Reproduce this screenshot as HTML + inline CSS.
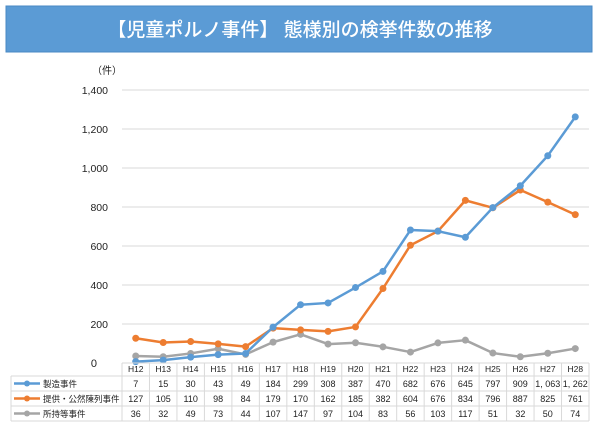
<!DOCTYPE html>
<html><head><meta charset="utf-8"><style>
html,body{margin:0;padding:0;background:#fff;}
svg text{font-family:"Liberation Sans","Noto Sans CJK JP",sans-serif;}
</style></head><body>
<svg width="600" height="432" viewBox="0 0 600 432" xmlns="http://www.w3.org/2000/svg">
<rect x="0" y="0" width="600" height="432" fill="#fff"/>
<rect x="6" y="6" width="586" height="46" fill="#5b9bd5" stroke="#4a89c4"/>
<text x="300" y="36" text-anchor="middle" fill="#fff" font-size="19" font-weight="500">【児童ポルノ事件】 態様別の検挙件数の推移</text>
<text x="92" y="74" font-size="10" fill="#222">（件）</text>
<g stroke="#d9d9d9" stroke-width="1">
<line x1="122" x2="589" y1="90" y2="90"/>
<line x1="122" x2="589" y1="129" y2="129"/>
<line x1="122" x2="589" y1="168" y2="168"/>
<line x1="122" x2="589" y1="207" y2="207"/>
<line x1="122" x2="589" y1="246" y2="246"/>
<line x1="122" x2="589" y1="285" y2="285"/>
<line x1="122" x2="589" y1="324" y2="324"/>
</g>
<g font-size="10.5" fill="#222" text-anchor="end">
<text x="108" y="94">1,400</text>
<text x="108" y="133">1,200</text>
<text x="108" y="172">1,000</text>
<text x="108" y="211">800</text>
<text x="108" y="250">600</text>
<text x="108" y="289">400</text>
<text x="108" y="328">200</text>
<text x="97" y="367" font-size="11">0</text>
</g>
<g id="lines" fill="none" stroke-width="2.5" stroke-linejoin="round"></g>
<g id="table"></g>
</svg>
<script>
var svg=document.querySelector('svg');var NS='http://www.w3.org/2000/svg';
function el(n,a,p,t){var e=document.createElementNS(NS,n);for(var k in a)e.setAttribute(k,a[k]);if(t!=null)e.textContent=t;(p||svg).appendChild(e);return e;}
var d=[[7,15,30,43,49,184,299,308,387,470,682,676,645,797,909,1063,1262],
[127,105,110,98,84,179,170,162,185,382,604,676,834,796,887,825,761],
[36,32,49,73,44,107,147,97,104,83,56,103,117,51,32,50,74]];
var cols=['#5b9bd5','#ed7d31','#a5a5a5'];
var names=['製造事件','提供・公然陳列事件','所持等事件'];
var x0=122,cw=(589-122)/17;
function X(i){return x0+cw*(i+0.5);}function Y(v){return 363-v*273/1400;}
var g=document.getElementById('lines');
[2,1,0].forEach(function(s){var p='';d[s].forEach(function(v,i){p+=(i?'L':'M')+X(i)+' '+Y(v);});
el('path',{d:p,stroke:cols[s]},g);d[s].forEach(function(v,i){el('circle',{cx:X(i),cy:Y(v),r:3.5,fill:cols[s],stroke:'none'},g);});});
var t=document.getElementById('table');
var rows=[363,376,391,406,421];
el('line',{x1:x0,x2:589,y1:363,y2:363,stroke:'#d9d9d9'},t);
for(var r=1;r<5;r++)el('line',{x1:11,x2:589,y1:rows[r],y2:rows[r],stroke:'#d9d9d9'},t);
el('line',{x1:11,x2:11,y1:376,y2:421,stroke:'#d9d9d9'},t);
for(var i=0;i<=17;i++)el('line',{x1:x0+cw*i,x2:x0+cw*i,y1:363,y2:421,stroke:'#d9d9d9'},t);
for(var i=0;i<17;i++){el('text',{x:X(i),y:372,'font-size':8.5,'text-anchor':'middle',fill:'#222'},t,'H'+(12+i));}
for(var s=0;s<3;s++){var cy=(rows[s+1]+rows[s+2])/2;
el('line',{x1:14,x2:40,y1:cy,y2:cy,stroke:cols[s],'stroke-width':2.5},t);
el('circle',{cx:27,cy:cy,r:3,fill:cols[s]},t);
el('text',{x:43,y:cy+3.5,'font-size':8.5,fill:'#222'},t,names[s]);
d[s].forEach(function(v,i){var str=v>=1000?(Math.floor(v/1000)+', '+String(v%1000).padStart(3,'0')):String(v);
el('text',{x:X(i),y:cy+3.5,'font-size':9,'text-anchor':'middle',fill:'#222'},t,str);});}
</script>
</body></html>
